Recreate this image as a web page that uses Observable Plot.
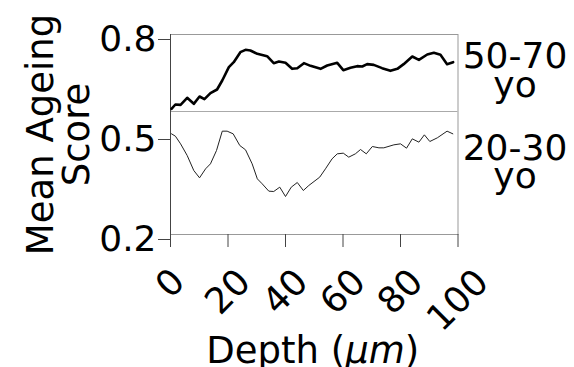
<!DOCTYPE html>
<html>
<head>
<meta charset="utf-8">
<script src="https://cdn.jsdelivr.net/npm/d3@7"></script>
<script src="https://cdn.jsdelivr.net/npm/@observablehq/plot@0.6"></script>
<style>
  html, body { margin: 0; padding: 0; background: #fff; }
  #chart svg { display: block; }
</style>
</head>
<body>
<div id="chart"></div>
<script>
// Depth (µm) sample points and mean ageing score
const depthOld = [0.35, 1.7, 3.5, 5.8, 8.1, 10.1, 11.8, 13.9, 16.2, 18.0, 20.3, 22.0, 24.3, 26.1, 27.8, 30.2, 33.6, 35.9, 37.7, 40.0, 42.3, 44.1, 46.4, 48.7, 52.2, 54.5, 58.0, 60.1, 62.6, 64.9, 66.7, 68.4, 70.7, 73.6, 76.5, 78.9, 81.1, 84.1, 86.4, 89.3, 91.6, 93.9, 96.2, 98.3];
const scoreOld = [0.577, 0.590, 0.589, 0.610, 0.592, 0.614, 0.606, 0.624, 0.635, 0.662, 0.702, 0.717, 0.747, 0.754, 0.752, 0.742, 0.735, 0.714, 0.719, 0.715, 0.697, 0.699, 0.714, 0.706, 0.697, 0.707, 0.715, 0.693, 0.700, 0.705, 0.704, 0.711, 0.709, 0.699, 0.691, 0.697, 0.711, 0.734, 0.724, 0.740, 0.745, 0.739, 0.711, 0.717];

const depthYoung = [0.35, 1.7, 3.5, 5.8, 8.1, 10.1, 12.2, 13.9, 16.0, 18.0, 19.7, 21.8, 24.1, 26.1, 28.4, 30.2, 31.9, 34.2, 35.9, 38.0, 40.0, 42.0, 44.1, 46.2, 48.1, 51.9, 53.9, 56.2, 58.0, 60.1, 62.0, 64.3, 66.1, 68.1, 70.2, 72.5, 74.2, 77.7, 80.0, 82.1, 84.1, 86.4, 88.3, 90.2, 92.8, 96.2, 98.2];
const scoreYoung = [0.502, 0.495, 0.472, 0.437, 0.392, 0.370, 0.397, 0.412, 0.452, 0.510, 0.510, 0.502, 0.467, 0.454, 0.412, 0.367, 0.352, 0.330, 0.329, 0.342, 0.314, 0.342, 0.356, 0.332, 0.347, 0.372, 0.397, 0.427, 0.442, 0.444, 0.432, 0.442, 0.455, 0.442, 0.464, 0.460, 0.460, 0.469, 0.472, 0.459, 0.487, 0.477, 0.499, 0.479, 0.490, 0.510, 0.502];

const xTicks = [0, 20, 40, 60, 80, 100];
const yTicks = [0.2, 0.5, 0.8];
const separatorScore = [0.569];
const groupLabels = ["50-70", "yo", "20-30", "yo"];
const yLabelLines = ["Mean Ageing", "Score"];
const xLabel = "Depth (µm)";

const oldData = depthOld.map((d, i) => ({depth: d, score: scoreOld[i]}));
const youngData = depthYoung.map((d, i) => ({depth: d, score: scoreYoung[i]}));

const font = "DejaVu Sans";
const F = 36;

const xTickLabelMarks = xTicks.map(t => Plot.text([t], {
  x: d => d,
  text: d => String(d),
  frameAnchor: "bottom",
  rotate: -45,
  textAnchor: "middle",
  lineAnchor: "middle",
  dy: 40.5 + 8.5 * String(t).length,
  fontSize: F,
  fill: "black"
}));

const groupOffsets = [33, 62, 125, 153];
const groupMarks = groupLabels.map((lab, i) => Plot.text([lab], {
  text: d => d,
  frameAnchor: "top-right",
  textAnchor: "middle",
  lineAnchor: "bottom",
  dx: 57,
  dy: groupOffsets[i],
  fontSize: F,
  fill: "black"
}));

const yLabelOffsets = [-118, -82];
const yLabelMarks = yLabelLines.map((lab, i) => Plot.text([lab], {
  text: d => d,
  frameAnchor: "left",
  rotate: -90,
  textAnchor: "middle",
  lineAnchor: "bottom",
  dx: yLabelOffsets[i],
  fontSize: 37,
  fill: "black"
}));

const plot = Plot.plot({
  width: 574,
  height: 367,
  marginLeft: 170,
  marginRight: 116.5,
  marginTop: 34,
  marginBottom: 133,
  style: {fontFamily: font, background: "#fff", color: "black", overflow: "visible"},
  x: {domain: [0, 100], axis: null},
  y: {domain: [0.2, 0.8], axis: null},
  marks: [
    Plot.frame({stroke: "#999", strokeWidth: 1}),
    Plot.ruleY(separatorScore, {stroke: "#aaa", strokeWidth: 1}),
    Plot.ruleX([0], {stroke: "#444", strokeWidth: 1}),
    Plot.axisX({ticks: xTicks, tickSize: 13, tickFormat: () => "", stroke: "#444", label: null}),
    Plot.axisY({ticks: yTicks, tickSize: 12, tickPadding: 2, tickFormat: d3.format(".1f"), fontSize: F, stroke: "#444", fill: "black", dy: 5, label: null}),
    Plot.line(youngData, {x: "depth", y: "score", stroke: "#222", strokeWidth: 1}),
    Plot.line(oldData, {x: "depth", y: "score", stroke: "black", strokeWidth: 2.6}),
    ...xTickLabelMarks,
    ...groupMarks,
    ...yLabelMarks,
    Plot.text([xLabel], {
      text: d => d,
      frameAnchor: "bottom",
      textAnchor: "middle",
      lineAnchor: "bottom",
      dy: 128,
      dx: -1.5,
      fontSize: 37,
      fill: "black",
      render(index, scales, values, dimensions, context, next) {
        const g = next(index, scales, values, dimensions, context);
        d3.select(g).selectAll("text").each(function () {
          const t = d3.select(this);
          t.text(null);
          t.append("tspan").text("Depth (");
          t.append("tspan").attr("font-style", "italic").text("µm");
          t.append("tspan").text(")");
        });
        return g;
      }
    })
  ]
});
document.getElementById("chart").appendChild(plot);
</script>
</body>
</html>
